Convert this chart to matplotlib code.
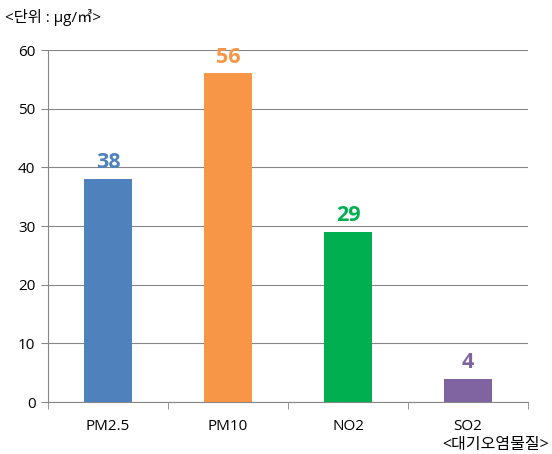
import matplotlib
matplotlib.use("Agg")
import matplotlib.pyplot as plt

plt.rcParams['font.family'] = ['Open Sans', 'Noto Sans CJK KR', 'DejaVu Sans']

categories = ["PM2.5", "PM10", "NO2", "SO2"]
values = [38, 56, 29, 4]
colors = ["#4F81BD", "#F79646", "#00B050", "#8064A2"]
yticks = [0, 10, 20, 30, 40, 50, 60]

fig = plt.figure(figsize=(5.52, 4.54), dpi=100)
ax = fig.add_axes([48 / 552, 52 / 454, 480 / 552, 352 / 454])

x = list(range(len(categories)))
ax.bar(x, values, width=0.4, color=colors, zorder=3)
for xi, v, c in zip(x, values, colors):
    ax.text(xi, v + 1.0, str(v), ha="center", va="bottom", color=c,
            fontsize=15.5, fontweight="bold")

ax.set_xlim(-0.5, len(categories) - 0.5)
ax.set_ylim(0, 60)
ax.set_yticks(yticks)
ax.yaxis.grid(True, color="#868686", linewidth=0.8, zorder=0)
ax.tick_params(axis="y", length=5, color="#868686", labelsize=11, pad=4)

ax.set_xticks(x)
ax.set_xticklabels(categories, fontsize=11)
ax.tick_params(axis="x", length=0, pad=12)
ax.set_xticks([i - 0.5 for i in range(len(categories) + 1)], minor=True)
ax.tick_params(axis="x", which="minor", length=5, color="#868686")

for s in ["top", "right"]:
    ax.spines[s].set_visible(False)
for s in ["left", "bottom"]:
    ax.spines[s].set_color("#868686")
    ax.spines[s].set_linewidth(0.8)

fig.text(5 / 552, 1 - 18 / 454, "<단위 : μg/㎥>", fontsize=11, va="center", ha="left")
fig.text(549 / 552, 1 - 445 / 454, "<대기오염물질>", fontsize=11.5, va="center", ha="right")

fig.savefig("out.png", dpi=100)
